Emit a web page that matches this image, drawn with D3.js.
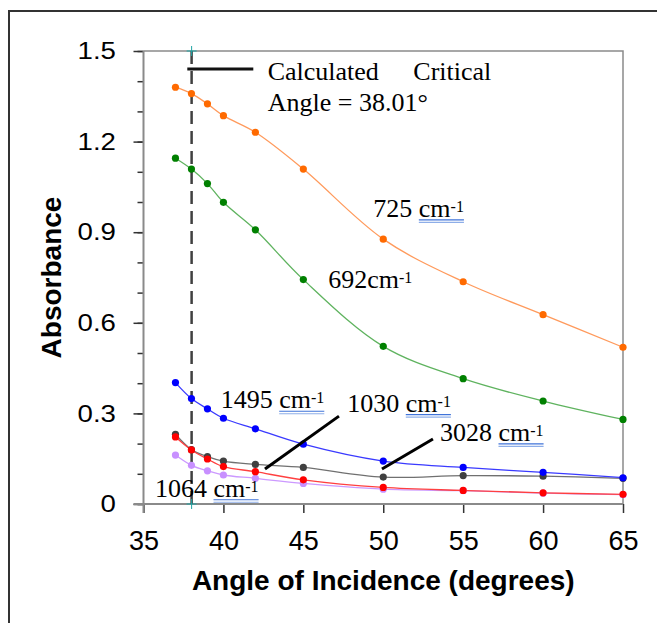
<!DOCTYPE html>
<html>
<head>
<meta charset="utf-8">
<script src="https://cdn.jsdelivr.net/npm/d3@7"></script>
<style>
    body { margin: 0; background: #fff; }
    svg { display: block; }
    .tick-label { font-family: "Liberation Sans", Arial, sans-serif; fill: #000; }
    .axis-title { font-family: "Liberation Sans", Arial, sans-serif; font-weight: bold; fill: #000; }
    .note { font-family: "Liberation Serif", "Times New Roman", serif; font-size: 26px; fill: #000; }
</style>
</head>
<body>
<svg id="chart" width="657" height="623"></svg>
<script>
// incidence angles (degrees), shared by every series
const angles = [37, 38, 39, 40, 42, 45, 50, 55, 60, 65]

// absorbance per band
const band725 = [1.380, 1.359, 1.325, 1.286, 1.231, 1.109, 0.877, 0.736, 0.627, 0.519]
const band692 = [1.145, 1.109, 1.061, 0.999, 0.908, 0.743, 0.522, 0.415, 0.341, 0.280]
const band1495 = [0.402, 0.349, 0.315, 0.284, 0.249, 0.198, 0.142, 0.121, 0.105, 0.087]
const band3028 = [0.231, 0.180, 0.157, 0.142, 0.131, 0.121, 0.089, 0.094, 0.092, 0.085]
const band1030 = [0.222, 0.179, 0.149, 0.124, 0.107, 0.080, 0.055, 0.045, 0.037, 0.032]
const band1064 = [0.162, 0.128, 0.110, 0.096, 0.085, 0.068, 0.049, 0.044, 0.036, 0.031]

const criticalAngle = 38.01

const xTicks = [35, 40, 45, 50, 55, 60, 65]
const yMinorTicks = [0, 0.1, 0.2, 0.3, 0.4, 0.5, 0.6, 0.7, 0.8, 0.9, 1.0, 1.1, 1.2, 1.3, 1.4, 1.5]
const yMajorTicks = [0, 0.3, 0.6, 0.9, 1.2, 1.5]
const yTickLabels = ["0", "0.3", "0.6", "0.9", "1.2", "1.5"]

const series = [
    { values: band725, line: "#ff9a5c", dot: "#ff6a00" },
    { values: band692, line: "#5fb35f", dot: "#008000" },
    { values: band3028, line: "#707070", dot: "#404040" },
    { values: band1064, line: "#cc99ff", dot: "#c890ff" },
    { values: band1495, line: "#3a3aff", dot: "#0000ff" },
    { values: band1030, line: "#ff4040", dot: "#ff0000" },
]

// band labels, anchored in data units (angle, absorbance)
const bandLabels = [
    { num: "725 ", angle: 49.38, value: 0.951, underline: true },
    { num: "692", angle: 46.56, value: 0.714, underline: false },
    { num: "1495 ", angle: 39.83, value: 0.317, underline: true },
    { num: "1030 ", angle: 47.75, value: 0.306, underline: true },
    { num: "3028 ", angle: 53.55, value: 0.209, underline: true },
    { num: "1064 ", angle: 35.72, value: 0.024, underline: true },
]

// leader lines from label to curve: [angle1, value1, angle2, value2]
const leaders = [
    [42.60, 0.116, 47.23, 0.291],
    [49.92, 0.116, 53.11, 0.215],
]

const svg = d3.select("#chart")
const plot = { left: 143.5, right: 623, top: 51, bottom: 504 }

const x = d3.scaleLinear().domain([35, 65]).range([plot.left, plot.right])
const y = d3.scaleLinear().domain([0, 1.5]).range([plot.bottom, plot.top])

// outer frame
svg.append("rect")
    .attr("x", 9)
    .attr("y", 11)
    .attr("width", 700)
    .attr("height", 700)
    .attr("fill", "none")
    .attr("stroke", "#333")
    .attr("stroke-width", 2)

// plot frame (top and right)
svg.append("path")
    .attr("d", `M${plot.left},${plot.top}H${plot.right}V${plot.bottom}`)
    .attr("fill", "none")
    .attr("stroke", "#8a8a8a")
    .attr("stroke-width", 1.5)

// y axis: minor ticks, then labelled ticks
const yMinor = svg.append("g")
    .attr("transform", `translate(${plot.left},0)`)
    .call(d3.axisLeft(y).tickValues(yMinorTicks).tickSize(6).tickFormat(""))
const yMajor = svg.append("g")
    .attr("transform", `translate(${plot.left},0)`)
    .call(d3.axisLeft(y).tickValues(yMajorTicks).tickSize(10).tickPadding(14)
        .tickFormat((d, i) => yTickLabels[i]))
const xAxis = svg.append("g")
    .attr("transform", `translate(0,${plot.bottom})`)
    .call(d3.axisBottom(x).tickValues(xTicks).tickSize(9).tickPadding(18))

for (const g of [yMinor, yMajor, xAxis]) {
    g.select(".domain").remove()
    g.selectAll(".tick line").attr("stroke", "#333").attr("stroke-width", 1.5)
}
yMajor.selectAll(".tick text")
    .attr("class", "tick-label")
    .attr("font-size", 24)
    .attr("transform", "scale(1.15,1)")
    .attr("x", -24 / 1.15 * 0 - 24)
xAxis.selectAll(".tick text")
    .attr("class", "tick-label")
    .attr("font-size", 27)
    .attr("dy", "0.71em")

// axis lines
svg.append("line")
    .attr("x1", plot.left).attr("x2", plot.left)
    .attr("y1", plot.top).attr("y2", plot.bottom + 9)
    .attr("stroke", "#8a8a8a").attr("stroke-width", 2)
svg.append("line")
    .attr("x1", plot.left - 10).attr("x2", plot.right)
    .attr("y1", plot.bottom).attr("y2", plot.bottom)
    .attr("stroke", "#8a8a8a").attr("stroke-width", 2)

svg.append("text")
    .attr("class", "axis-title")
    .attr("font-size", 28)
    .attr("text-anchor", "middle")
    .attr("transform", `translate(61,${(plot.top + plot.bottom) / 2}) rotate(-90)`)
    .text("Absorbance")

svg.append("text")
    .attr("class", "axis-title")
    .attr("font-size", 28)
    .attr("text-anchor", "middle")
    .attr("x", (plot.left + plot.right) / 2)
    .attr("y", 590)
    .text("Angle of Incidence (degrees)")

// critical angle marker
svg.append("line")
    .attr("x1", x(criticalAngle)).attr("x2", x(criticalAngle))
    .attr("y1", y(1.5)).attr("y2", y(0))
    .attr("stroke", "#404040")
    .attr("stroke-width", 2.5)
    .attr("stroke-dasharray", "13 7")
for (const v of [1.5, 0]) {
    svg.append("path")
        .attr("d", `M${x(criticalAngle) - 5},${y(v)}h10M${x(criticalAngle)},${y(v) - 5}v10`)
        .attr("stroke", "#1fa5a5")
        .attr("stroke-width", 1)
}

// series
const line = d3.line()
    .x((d) => x(d[0]))
    .y((d) => y(d[1]))
    .curve(d3.curveCatmullRom.alpha(0.5))

for (const s of series) {
    const pts = angles.map((a, i) => [a, s.values[i]])
    svg.append("path")
        .datum(pts)
        .attr("fill", "none")
        .attr("stroke", s.line)
        .attr("stroke-width", 1.3)
        .attr("d", line)
}
for (const s of series) {
    const pts = angles.map((a, i) => [a, s.values[i]])
    svg.append("g")
        .selectAll("circle")
        .data(pts)
        .join("circle")
        .attr("cx", (d) => x(d[0]))
        .attr("cy", (d) => y(d[1]))
        .attr("r", 3.6)
        .attr("fill", s.dot)
}

// legend for the critical angle line
svg.append("line")
    .attr("x1", x(37.74)).attr("x2", x(41.87))
    .attr("y1", y(1.44)).attr("y2", y(1.44))
    .attr("stroke", "#111")
    .attr("stroke-width", 3)
svg.append("text").attr("class", "note")
    .attr("x", x(42.77)).attr("y", y(1.404))
    .text("Calculated")
svg.append("text").attr("class", "note")
    .attr("x", x(51.88)).attr("y", y(1.404))
    .text("Critical")
svg.append("text").attr("class", "note")
    .attr("x", x(42.77)).attr("y", y(1.302))
    .text("Angle = 38.01°")

// band labels
for (const lab of bandLabels) {
    const t = svg.append("text").attr("class", "note")
        .attr("x", x(lab.angle))
        .attr("y", y(lab.value))
    t.append("tspan").text(lab.num + "cm")
    t.append("tspan").attr("font-size", 16).attr("dy", -5).text("-1")
    if (lab.underline) {
        const node = t.node()
        const start = node.getSubStringLength(0, lab.num.length)
        const end = node.getComputedTextLength()
        const x0 = x(lab.angle) + start
        const base = y(lab.value)
        for (const off of [3, 5.5]) {
            svg.append("line")
                .attr("x1", x0).attr("x2", x0 + end - start)
                .attr("y1", base + off).attr("y2", base + off)
                .attr("stroke", off === 3 ? "#3f73d9" : "#8eaee8")
                .attr("stroke-width", 1.2)
        }
    }
}

for (const l of leaders) {
    svg.append("line")
        .attr("x1", x(l[0])).attr("y1", y(l[1]))
        .attr("x2", x(l[2])).attr("y2", y(l[3]))
        .attr("stroke", "#000")
        .attr("stroke-width", 3)
}
</script>
</body>
</html>
